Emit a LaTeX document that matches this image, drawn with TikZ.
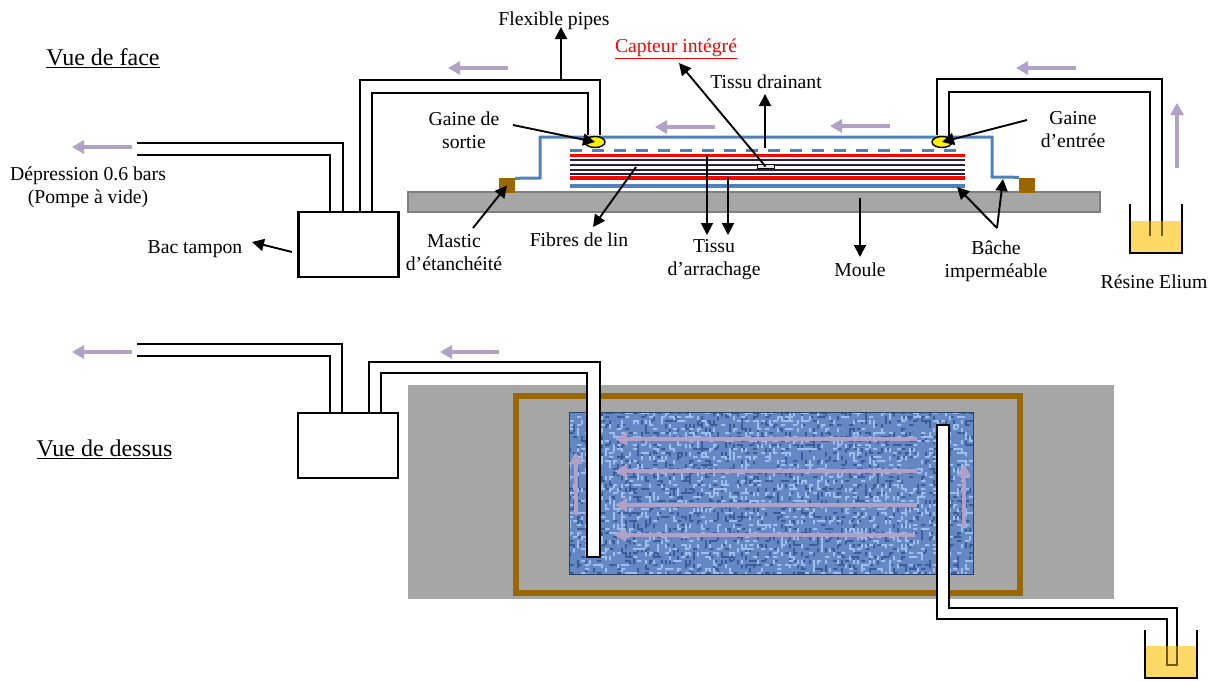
\documentclass[tikz,border=0pt]{standalone}
\usepackage{fontspec}
\setmainfont{Liberation Serif}
\usetikzlibrary{arrows.meta,shapes.geometric,positioning}

\definecolor{mouldgray}{HTML}{A6A6A6}
\definecolor{mouldedge}{HTML}{7F7F7F}
\definecolor{sealbrown}{HTML}{996600}
\definecolor{bagblue}{HTML}{4F81BD}
\definecolor{flowlilac}{HTML}{B2A1C7}
\definecolor{resinyellow}{HTML}{FFD966}
\definecolor{pipeolive}{HTML}{6E5A10}
\definecolor{plydark}{HTML}{30203F}
\definecolor{weavebase}{HTML}{6488C4}
\definecolor{weavelight}{HTML}{9FBEEE}
\definecolor{weavedark}{HTML}{3A5C98}

\tikzset{
    lbl/.style={font=\fontsize{19.7}{23}\selectfont,align=center,inner sep=0pt},
    viewlbl/.style={font=\fontsize{24}{27}\selectfont,inner sep=0pt},
    leader/.style={-{Triangle[length=12pt,width=12pt]},line width=1.9pt,black},
    flowarrow/.style={-{Triangle[length=12pt,width=13pt]},line width=3.2pt,flowlilac},
    weavearrow/.style={flowarrow,line width=3.8pt},
    pipe/.style={line width=2.2pt,black},
    tubeline/.style={line width=2pt,black},
    tankbox/.style={draw,fill=white,line width=2.2pt,minimum width=100pt,minimum height=65pt,inner sep=0pt},
    sealbox/.style={fill=sealbrown,minimum width=16pt,minimum height=15pt,inner sep=0pt},
    gainenode/.style={draw,ellipse,fill=yellow,line width=1.4pt,minimum width=20pt,minimum height=11pt,inner sep=0pt},
    bagline/.style={line width=3pt,bagblue}
}

\begin{document}
\begin{tikzpicture}[x=1pt,y=-1pt]
    \useasboundingbox (0,0) rectangle (1215,680);

    \node (viewface) at (103,58) [viewlbl] {\underline{Vue de face}};
    \node (viewtop) at (104.5,449) [viewlbl] {\underline{Vue de dessus}};

    \node (moule) at (754,202) [draw=mouldedge,fill=mouldgray,line width=1.4pt,minimum width=692pt,minimum height=20pt,inner sep=0pt] {};
    \node (masticL) at (507,185.5) [sealbox] {};
    \node (masticR) at (1027,185) [sealbox] {};
    \draw[bagline] (masticL.north east) ++(0,0.5) -- (540,178) -- (540,137) -- (992,137) -- (992,177) -- (masticR.north west);
    \draw[bagline,dash pattern=on 12pt off 10pt] (570,150) -- (966,150);
    \draw[line width=3.4pt,red] (570,155.5) -- (965,155.5);
    \draw[line width=3.4pt,red] (570,178) -- (965,178);
    \foreach \plyy in {160,165,170,174} {
        \draw[line width=1.1pt,plydark] (570,\plyy) -- (965,\plyy);
    }
    \draw[line width=4.6pt,bagblue] (570,186) -- (965,186);
    \node (sensor) at (765.5,166.5) [draw,fill=black!10,line width=1pt,minimum width=17pt,minimum height=3.5pt,inner sep=0pt] {};

    \draw[pipe] (137,143) -| (343,212);
    \draw[pipe] (137,155) -| (330,212);
    \draw[pipe] (360,212) |- (600,80) -- (600,135);
    \draw[pipe] (372,212) |- (588,93) -- (588,135);
    \node (bacF) at (348.5,244.5) [tankbox] {};

    \fill[resinyellow] (1131,221) rectangle (1181,252);
    \draw[pipe] (937,135) |- (1162,79) -- (1162,221);
    \draw[pipe] (949,137) |- (1150,92) -- (1150,221);
    \draw[pipe,pipeolive] (1162,221) -- (1162,236);
    \draw[pipe,pipeolive] (1150,221) -- (1150,236);
    \draw[pipe] (1130,204) |- (1182,253) -- (1182,204);

    \node (gaineS) at (595,142) [gainenode] {};
    \node (gaineE) at (942,142) [gainenode] {};

    \node (flex) at (554,20.5) [lbl] {Flexible pipes};
    \node (capteur) at (676,49) [lbl,text=red] {\underline{Capteur intégré}};
    \node (drainant) at (766,82) [lbl] {Tissu drainant};
    \node (sortie) at (464,130.5) [lbl] {Gaine de\\sortie};
    \node (entree) at (1073,129.5) [lbl] {Gaine\\d’entrée};
    \node (depress) at (88,187.5) [lbl] {Dépression 0.6 bars\\(Pompe à vide)};
    \node (bac) at (195,249) [lbl] {Bac tampon};
    \node (mastic) at (454,252.5) [lbl] {Mastic\\d’étanchéité};
    \node (fibres) at (579,240) [lbl] {Fibres de lin};
    \node (arrachage) at (714,260) [lbl] {Tissu\\d’arrachage};
    \node (moulelbl) at (860,270) [lbl] {Moule};
    \node (bache) at (996,261.5) [lbl] {Bâche\\imperméable};
    \node (resine) at (1154,282) [lbl] {Résine Elium};

    \coordinate (flexfoot) at (561,80);
    \coordinate (flextip) at (561,27);
    \coordinate (capteurtip) at (679,63);
    \coordinate (drainfoot) at (765,148);
    \coordinate (draintip) at (765,94);
    \coordinate (sortiefoot) at (513,125);
    \coordinate (entreefoot) at (1027,120);
    \coordinate (masticfoot) at (473,228);
    \coordinate (fibresfoot) at (636,167);
    \coordinate (fibrestip) at (593,227);
    \coordinate (arrA) at (707,155);
    \coordinate (arrAtip) at (707,235);
    \coordinate (arrB) at (728,177);
    \coordinate (arrBtip) at (728,235);
    \coordinate (mouleA) at (860,198);
    \coordinate (mouletip) at (860,257);
    \coordinate (bacheroot) at (997,228);
    \coordinate (bacheA) at (957,187);
    \coordinate (bacheB) at (1003,179);
    \coordinate (bacfoot) at (292,252);
    \coordinate (bactip) at (252,242);

    \draw[leader] (flexfoot) -- (flextip);
    \draw[leader] (sensor.center) -- (capteurtip);
    \draw[leader] (drainfoot) -- (draintip);
    \draw[leader] (sortiefoot) -- (gaineS.center);
    \draw[leader] (entreefoot) -- (gaineE.center);
    \draw[leader] (masticfoot) -- (masticL.center);
    \draw[leader] (fibresfoot) -- (fibrestip);
    \draw[leader] (arrA) -- (arrAtip);
    \draw[leader] (arrB) -- (arrBtip);
    \draw[leader] (mouleA) -- (mouletip);
    \draw[leader] (bacheroot) -- (bacheA);
    \draw[leader] (bacheroot) -- (bacheB);
    \draw[leader] (bacfoot) -- (bactip);

    \draw[flowarrow] (132,147) -- (72,147);
    \draw[flowarrow] (508,68) -- (448,68);
    \draw[flowarrow] (715,127) -- (655,127);
    \draw[flowarrow] (890,126) -- (830,126);
    \draw[flowarrow] (1076,68) -- (1016,68);
    \draw[flowarrow] (1177,168) -- (1177,103);

    \node (moulebas) at (761,492) [fill=mouldgray,minimum width=706pt,minimum height=214pt,inner sep=0pt] {};
    \node (joint) at (768,494.5) [draw=sealbrown,line width=5.5pt,minimum width=504pt,minimum height=197pt,inner sep=0pt] {};

    \begin{scope}
        \clip (569,412) rectangle (973,574);
        \fill[weavebase] (569,412) rectangle (973,574);
        \pgfmathsetseed{7}
        \fill[weavedark] \foreach \k in {1,...,850} {
            ({569+4*int(rnd*101)},{412+4*int(rnd*41)}) rectangle ++(4.4,1.8)
            ({569+4*int(rnd*101)},{412+4*int(rnd*41)}) rectangle ++(1.8,4.4)
        };
        \fill[weavelight] \foreach \k in {1,...,750} {
            ({569+4*int(rnd*101)},{412+4*int(rnd*41)}) rectangle ++(4.4,1.8)
            ({569+4*int(rnd*101)},{412+4*int(rnd*41)}) rectangle ++(1.8,4.4)
        };
    \end{scope}
    \node (fabric) at (771,493) [draw=weavedark!70!black,line width=1pt,minimum width=404pt,minimum height=162pt,inner sep=0pt] {};

    \draw[weavearrow] (917,439) -- (615,439);
    \draw[weavearrow] (917,471) -- (615,471);
    \draw[weavearrow] (917,505) -- (615,505);
    \draw[weavearrow] (915,535) -- (614,535);
    \draw[weavearrow] (576,515) -- (576,452);
    \draw[weavearrow] (964,528) -- (964,464);

    \draw[pipe] (137,344) -| (342,413);
    \draw[pipe] (137,356) -| (330,413);
    \draw[pipe,fill=white] (369,413) |- (600,362) -- (600,557) -- (587,557) -- (587,373) -- (381,373) -- (381,413);
    \node (bacT) at (348,445.5) [tankbox] {};

    \draw[tubeline,fill=white] (937,425) -- (949,425) -- (949,608) -- (1177,608) -- (1177,665) -- (1167,665) -- (1167,619) -- (937,619) -- cycle;
    \fill[resinyellow] (1146,646) rectangle (1196,677);
    \draw[tubeline,pipeolive] (1167,646) |- (1177,665) -- (1177,646);
    \draw[tubeline] (1145,630) |- (1197,678) -- (1197,630);

    \draw[flowarrow] (132,352) -- (72,352);
    \draw[flowarrow] (499,352) -- (440,352);

\end{tikzpicture}
\end{document}
